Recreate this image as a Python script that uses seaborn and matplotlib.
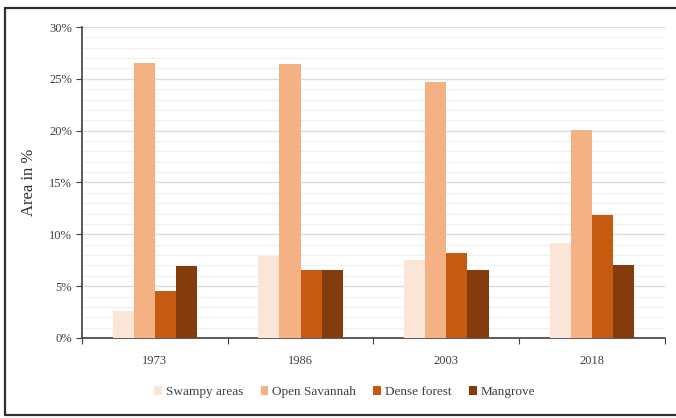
import matplotlib
matplotlib.use("Agg")
import matplotlib.pyplot as plt
import matplotlib.ticker as mticker
from matplotlib.lines import Line2D
import pandas as pd
import seaborn as sns

years = ["1973", "1986", "2003", "2018"]
classes = ["Swampy areas", "Open Savannah", "Dense forest", "Mangrove"]
swampy = [2.6, 7.9, 7.5, 9.2]
savannah = [26.5, 26.4, 24.7, 20.1]
dense = [4.5, 6.6, 8.2, 11.9]
mangrove = [6.9, 6.6, 6.6, 7.0]
colors = ["#fbe5d6", "#f4b183", "#c55a11", "#843c0c"]
yticks = [0, 5, 10, 15, 20, 25, 30]

rows = []
for name, vals in zip(classes, [swampy, savannah, dense, mangrove]):
    for yr, v in zip(years, vals):
        rows.append({"Year": yr, "Class": name, "Area": v})
df = pd.DataFrame(rows)

sns.set_style("white")
plt.rcParams["font.family"] = ["Liberation Serif", "DejaVu Serif"]

fig = plt.figure(figsize=(6.76, 4.18), dpi=100)
ax = fig.add_axes([0.1213, 0.1914, 0.8624, 0.744])

sns.barplot(data=df, x="Year", y="Area", hue="Class", order=years,
            hue_order=classes, palette=colors, width=0.58, gap=0,
            linewidth=0, saturation=1, ax=ax, legend=True, zorder=3)

ax.set_ylim(0, 30)
ax.set_xlim(-0.5, 3.5)

# gridlines: light minor every 1 %, slightly darker major every 5 %
for v in range(1, 31):
    c = "#dcdcdc" if v % 5 == 0 else "#efefef"
    ax.axhline(v, color=c, lw=1.0 if v % 5 == 0 else 0.8, zorder=1)

ax.set_yticks(yticks)
ax.yaxis.set_major_formatter(mticker.FuncFormatter(lambda v, p: f"{v:.0f}%"))
ax.tick_params(axis="y", which="major", length=4, width=0.8, color="#404040",
               labelsize=9, labelcolor="#404040", direction="out", left=True, pad=3)

ax.set_xticks(range(len(years)))
ax.set_xticklabels(years)
ax.set_xticks([-0.5, 0.5, 1.5, 2.5, 3.5], minor=True)
ax.tick_params(axis="x", which="major", length=0, labelsize=9,
               labelcolor="#404040", pad=12)
ax.tick_params(axis="x", which="minor", length=4, width=0.8,
               color="#404040", direction="out", bottom=True)

for side in ["top", "right"]:
    ax.spines[side].set_visible(False)
for side in ["left", "bottom"]:
    ax.spines[side].set_color("#404040")
    ax.spines[side].set_linewidth(1.2)

ax.set_xlabel("")
ax.set_ylabel("Area in %", fontsize=12, color="#303030", labelpad=9)

handles, labels = ax.get_legend_handles_labels()
ax.legend_.remove()
fig.legend(handles, labels, loc="center", bbox_to_anchor=(0.51, 0.062),
           ncol=4, frameon=False, fontsize=9.5, handlelength=0.6,
           handleheight=0.6, handletextpad=0.3, columnspacing=1.3,
           labelcolor="#404040")

# frame around the figure (left, top, bottom)
frame = dict(transform=fig.transFigure, color="#303030", lw=1.6)
fig.add_artist(Line2D([0.008, 0.008], [0.006, 0.982], **frame))
fig.add_artist(Line2D([0.008, 1.0], [0.982, 0.982], **frame))
fig.add_artist(Line2D([0.008, 1.0], [0.006, 0.006], **frame))

fig.savefig("out.png", dpi=100)
